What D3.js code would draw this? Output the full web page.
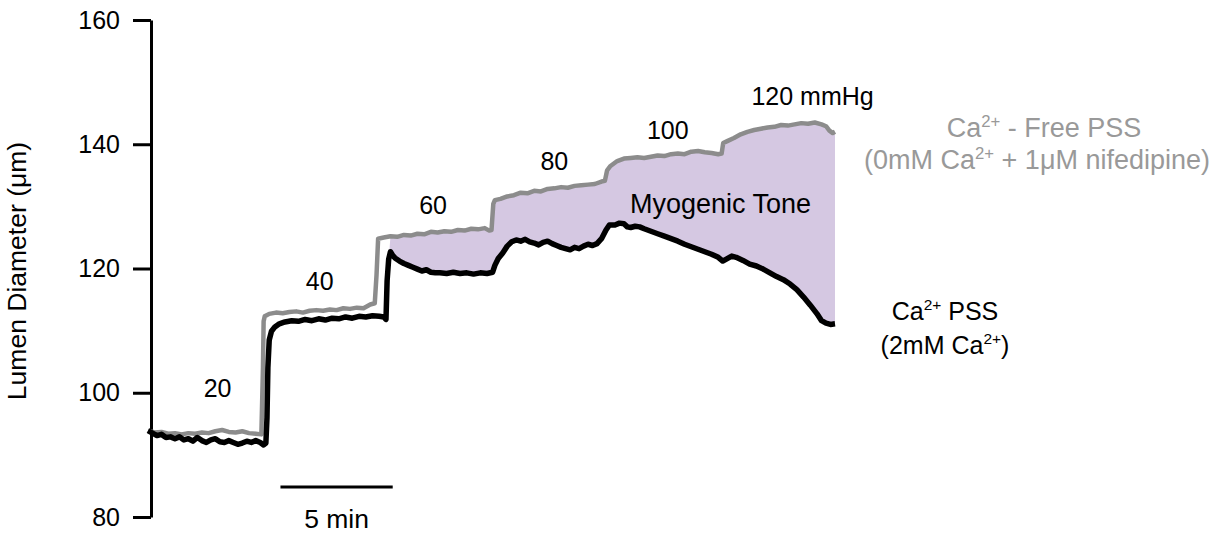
<!DOCTYPE html>
<html>
<head>
<meta charset="utf-8">
<script src="https://cdn.jsdelivr.net/npm/d3@7"></script>
<style>
  html, body { margin: 0; padding: 0; background: #fff; }
  svg { display: block; font-family: "Liberation Sans", Arial, sans-serif; }
</style>
</head>
<body>
<svg id="chart" width="1220" height="533"></svg>
<script>
// Time (min) and lumen diameter (µm) for the Ca2+-free trace (passive)
const freeTime = [0,0.3,0.6,0.9,1.2,1.5,1.8,2.1,2.4,2.7,3.0,3.3,3.6,3.9,4.2,4.5,4.8,5.05,
  5.12,5.15,5.2,5.4,5.7,6.0,6.3,6.6,6.9,7.2,7.5,7.8,8.1,8.4,8.7,9.0,9.3,9.6,9.9,10.1,10.18,10.25,
  10.5,10.8,11.1,11.4,11.7,12.0,12.3,12.6,12.9,13.2,13.5,13.8,14.1,14.4,14.7,15.0,15.2,15.3,15.38,15.45,
  15.7,16.0,16.3,16.6,16.9,17.2,17.5,17.8,18.1,18.4,18.7,19.0,19.3,19.6,19.9,20.2,20.35,20.45,20.6,20.9,21.2,21.5,
  21.8,22.1,22.4,22.7,23.0,23.3,23.6,23.9,24.2,24.5,24.8,25.1,25.4,25.55,25.62,25.8,
  26.1,26.4,26.7,27.0,27.3,27.6,27.9,28.2,28.5,28.8,29.1,29.4,29.7,30.0,30.2,30.35,30.5,30.6];
const freeDiam = [93.9,93.6,93.7,93.4,93.5,93.3,93.5,93.4,93.6,93.5,93.8,94.0,93.7,93.6,93.8,93.5,93.4,93.3,
  104,111.5,112.3,112.7,112.9,112.8,113.0,113.1,112.9,113.2,113.3,113.2,113.4,113.3,113.6,113.5,113.7,113.6,114.2,114.4,119,124.8,
  125.0,125.2,125.1,125.4,125.3,125.6,125.5,125.9,125.8,126.0,125.9,126.2,126.1,126.4,126.3,126.5,126.1,126.2,130.4,131.0,
  131.2,131.6,131.8,132.2,132.1,132.5,132.4,132.8,132.9,133.1,133.0,133.3,133.4,133.5,133.6,134.0,134.1,135.8,136.5,137.3,137.7,137.8,
  137.9,137.8,138.0,138.2,138.1,138.4,138.5,138.4,138.8,138.9,138.7,138.6,138.4,138.5,140.2,140.5,
  141.0,141.6,142.0,142.3,142.5,142.7,142.8,143.1,143.0,143.2,143.4,143.3,143.5,143.2,142.9,142.2,141.8,142.0];

// Time (min) and lumen diameter (µm) for the 2 mM Ca2+ trace (active)
const caTime = [0,0.2,0.4,0.6,0.8,1.0,1.2,1.4,1.6,1.8,2.0,2.2,2.4,2.6,2.8,3.0,3.2,3.4,3.6,3.8,4.0,4.2,4.4,4.6,4.8,5.0,5.15,5.25,
  5.3,5.34,5.4,5.5,5.65,5.85,6.1,6.4,6.7,7.0,7.3,7.6,7.9,8.2,8.5,8.8,9.1,9.4,9.7,10.0,10.3,10.5,10.6,
  10.65,10.72,10.8,10.9,11.0,11.2,11.4,11.6,11.8,12.0,12.2,12.4,12.6,12.8,13.0,13.3,13.6,13.9,14.2,14.5,14.8,15.1,15.35,
  15.45,15.6,15.8,16.0,16.2,16.4,16.6,16.8,17.0,17.2,17.4,17.6,17.8,18.0,18.2,18.4,18.6,18.8,19.0,19.2,19.4,19.6,19.8,20.0,20.2,20.4,20.55,
  20.8,21.0,21.2,21.35,21.5,21.7,21.9,22.1,22.4,22.7,23.0,23.3,23.6,23.9,24.2,24.5,24.8,25.1,25.4,25.6,25.8,26.0,26.2,26.5,26.8,
  27.1,27.4,27.7,28.0,28.3,28.6,28.9,29.2,29.5,29.8,30.0,30.2,30.4,30.6];
const caDiam = [93.9,93.5,93.1,93.3,92.8,92.9,92.6,92.9,92.4,92.6,92.2,92.8,92.3,92.0,92.4,92.6,92.1,92.0,92.3,92.0,91.7,91.9,92.2,92.0,92.3,92.0,91.6,91.9,
  96,104,108.5,109.9,110.6,111.1,111.4,111.6,111.5,111.8,111.6,111.9,111.7,112.0,111.9,112.2,112.0,112.3,112.2,112.4,112.3,112.2,111.8,
  118,121.5,122.7,122.1,121.7,121.2,120.8,120.5,120.2,119.9,119.6,119.8,119.4,119.3,119.3,119.2,119.4,119.2,119.3,119.1,119.3,119.2,119.4,
  120.5,121.6,122.5,123.6,124.3,124.6,124.4,124.7,124.3,124.1,123.8,124.2,124.4,124.0,123.7,123.4,123.2,123.0,123.4,123.2,123.6,123.9,123.7,124.0,124.8,126.2,127.0,
  127.0,127.3,127.2,126.7,126.6,126.8,126.7,126.4,126.0,125.6,125.2,124.8,124.4,123.9,123.5,123.1,122.7,122.3,121.8,121.2,121.6,122.0,121.8,121.3,120.7,
  120.4,119.9,119.3,118.7,118.2,117.5,116.6,115.4,114.1,112.7,111.6,111.2,111.0,111.1];

// Axis ticks and pressure step labels
const yTicks = [80, 100, 120, 140, 160];
const pressureLabels = ["20", "40", "60", "80", "100", "120 mmHg"];
const pressureLabelTime = [3.1, 7.65, 12.7, 18.1, 23.15, 29.6];
const pressureLabelDiam = [99.3, 116.6, 128.8, 135.9, 140.8, 146.3];
const scaleBarMin = 5;
const toneStart = 10.65; // filled region begins once the active trace steps to 60 mmHg

const svg = d3.select("#chart");
const FS = 25;   // axis and pressure labels
const FL = 27;   // annotations and legend

const x = d3.scaleLinear().domain([0, 30.6]).range([148, 835]);
const y = d3.scaleLinear().domain([80, 160]).range([517, 20]);

const free = freeTime.map((t, i) => [t, freeDiam[i]]);
const ca = caTime.map((t, i) => [t, caDiam[i]]);

// Myogenic tone: area between passive (upper) and active (lower) traces
const line = d3.line().x(d => x(d[0])).y(d => y(d[1]));
const upperEdge = free.filter(d => d[0] >= toneStart);
const lowerEdge = ca.filter(d => d[0] >= toneStart).reverse();
svg.append("path")
  .attr("d", line(upperEdge.concat(lowerEdge)) + "Z")
  .attr("fill", "#d5c8e2")
  .attr("stroke", "none");

// Y axis
const yAxis = d3.axisLeft(y).tickValues(yTicks).tickSize(18).tickSizeOuter(0).tickPadding(13);
const gy = svg.append("g").attr("transform", "translate(151,0)").call(yAxis);
gy.select(".domain").attr("stroke", "#000").attr("stroke-width", 3);
gy.selectAll(".tick line").attr("stroke", "#000").attr("stroke-width", 3);
gy.selectAll(".tick text").attr("font-size", FS).attr("fill", "#000")
  .attr("font-family", "Liberation Sans, Arial, sans-serif");

svg.append("text")
  .attr("transform", "translate(26,271) rotate(-90)")
  .attr("text-anchor", "middle")
  .attr("font-size", 26.5)
  .text("Lumen Diameter (μm)");

// Traces
svg.append("path").datum(free)
  .attr("d", line).attr("fill", "none")
  .attr("stroke", "#8c8c8c").attr("stroke-width", 4.5).attr("stroke-linejoin", "round");
svg.append("path").datum(ca)
  .attr("d", line).attr("fill", "none")
  .attr("stroke", "#000").attr("stroke-width", 5.5).attr("stroke-linejoin", "round");

// Pressure labels
svg.selectAll("text.press").data(pressureLabels).enter().append("text")
  .attr("class", "press")
  .attr("x", (d, i) => x(pressureLabelTime[i]))
  .attr("y", (d, i) => y(pressureLabelDiam[i]))
  .attr("text-anchor", "middle")
  .attr("font-size", FS)
  .text(d => d);

svg.append("text")
  .attr("x", x(25.5)).attr("y", y(128.9))
  .attr("text-anchor", "middle").attr("font-size", FL)
  .text("Myogenic Tone");

// Time scale bar
const barStart = 5.9;
svg.append("line")
  .attr("x1", x(barStart)).attr("x2", x(barStart + scaleBarMin))
  .attr("y1", 487).attr("y2", 487)
  .attr("stroke", "#000").attr("stroke-width", 3);
svg.append("text")
  .attr("x", x(barStart + scaleBarMin / 2)).attr("y", 528)
  .attr("text-anchor", "middle").attr("font-size", 26.5)
  .text(scaleBarMin + " min");

// Legend labels with superscripts
function caText(parent, before, after) {
  parent.append("tspan").text(before + "Ca");
  parent.append("tspan").attr("font-size", "0.62em").attr("dy", -10).text("2+");
  parent.append("tspan").attr("dy", 10).text(after);
}
const g1 = svg.append("text").attr("x", 1044).attr("y", 137)
  .attr("text-anchor", "middle").attr("font-size", FL).attr("fill", "#999");
caText(g1, "", " - Free PSS");
const g2 = svg.append("text").attr("x", 1037).attr("y", 169)
  .attr("text-anchor", "middle").attr("font-size", FL).attr("fill", "#999");
caText(g2, "(0mM ", " + 1μM nifedipine)");

const b1 = svg.append("text").attr("x", 945).attr("y", 320)
  .attr("text-anchor", "middle").attr("font-size", FS).attr("fill", "#000");
caText(b1, "", " PSS");
const b2 = svg.append("text").attr("x", 945).attr("y", 354)
  .attr("text-anchor", "middle").attr("font-size", FS).attr("fill", "#000");
b2.append("tspan").text("(2mM Ca");
b2.append("tspan").attr("font-size", "0.62em").attr("dy", -10).text("2+");
b2.append("tspan").attr("dy", 10).text(")");
</script>
</body>
</html>
